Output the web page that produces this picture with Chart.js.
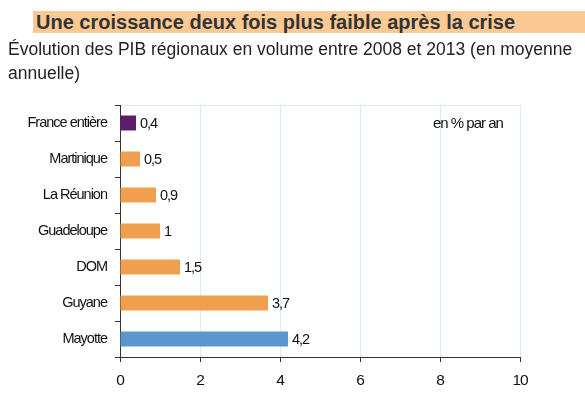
<!DOCTYPE html>
<html>
<head>
<meta charset="utf-8">
<script src="https://cdn.jsdelivr.net/npm/chart.js@4/dist/chart.umd.min.js"></script>
<style>
  body { margin: 0; width: 585px; height: 395px; background: #fff; overflow: hidden; font-family: "Liberation Sans", Arial, sans-serif; }
  #wrap { position: relative; width: 585px; height: 395px; }
  #myChart { position: absolute; left: 0; top: 0; }
  .title { position: absolute; left: 33px; top: 11px; width: 552px; height: 22px; background: #fbca94;
    font-weight: bold; font-size: 20px; line-height: 22px; color: #333; padding-left: 3px; box-sizing: border-box; }
  .sub { position: absolute; left: 8px; top: 37px; width: 577px; font-size: 17.5px; line-height: 24px; color: #222; }
  .unit { position: absolute; left: 433px; top: 114px; font-size: 15px; letter-spacing: -1px; color: #111; }
</style>
</head>
<body>
<div id="wrap">
  <canvas id="myChart" width="585" height="395"></canvas>
  <div class="title">Une croissance deux fois plus faible après la crise</div>
  <div class="sub">Évolution des PIB régionaux en volume entre 2008 et 2013 (en moyenne annuelle)</div>
  <div class="unit">en % par an</div>
</div>
<script>
const labels = ['France entière', 'Martinique', 'La Réunion', 'Guadeloupe', 'DOM', 'Guyane', 'Mayotte'];
const values = [0.4, 0.5, 0.9, 1, 1.5, 3.7, 4.2];
const colors = ['#5c1e6c', '#ef9f4e', '#ef9f4e', '#ef9f4e', '#ef9f4e', '#ef9f4e', '#5b96cc'];

const FONT = '"Liberation Sans", Arial, sans-serif';
let ctx = document.getElementById('myChart').getContext('2d');

// the source uses tightly spaced text
const tightText = {
    id: 'tightText',
    beforeDraw(chart) {
        chart.ctx.letterSpacing = '-1px';
    }
};

// values written at the end of each bar, with a comma as decimal mark
const valueLabels = {
    id: 'valueLabels',
    afterDatasetsDraw(chart) {
        const c = chart.ctx;
        c.save();
        c.font = '14.5px ' + FONT;
        c.fillStyle = '#111';
        c.textBaseline = 'middle';
        c.textAlign = 'left';
        chart.getDatasetMeta(0).data.forEach((bar, i) => {
            c.fillText(String(values[i]).replace('.', ','), bar.x + 4, bar.y + 1);
        });
        c.restore();
    }
};

const data = {
    labels: labels,
    datasets: [{
        data: values,
        backgroundColor: colors,
        borderWidth: 0,
        barPercentage: 0.52,
        categoryPercentage: 0.8
    }]
};

const config = {
    type: 'bar',
    data: data,
    options: {
        indexAxis: 'y',
        responsive: false,
        animation: false,
        layout: { padding: { top: 105, right: 65, left: 0, bottom: 0 } },
        plugins: {
            legend: { display: false },
            tooltip: { enabled: false }
        },
        scales: {
            x: {
                min: 0,
                max: 10,
                ticks: {
                    stepSize: 2,
                    padding: 9,
                    color: '#111',
                    font: { size: 15.5, family: FONT }
                },
                grid: { color: '#d4eef8', tickColor: '#333', tickLength: 5 },
                border: { color: '#333' },
                afterFit: (s) => { s.height = 38; }
            },
            y: {
                ticks: {
                    padding: 8,
                    color: '#111',
                    font: { size: 14.5, family: FONT }
                },
                grid: {
                    color: (c) => c.index === 0 ? '#d4eef8' : 'rgba(0,0,0,0)',
                    tickColor: '#333',
                    tickLength: 5
                },
                border: { color: '#333' },
                afterFit: (s) => { s.width = 120; }
            }
        }
    },
    plugins: [tightText, valueLabels]
};

let myChart = new Chart(ctx, config);
</script>
</body>
</html>
